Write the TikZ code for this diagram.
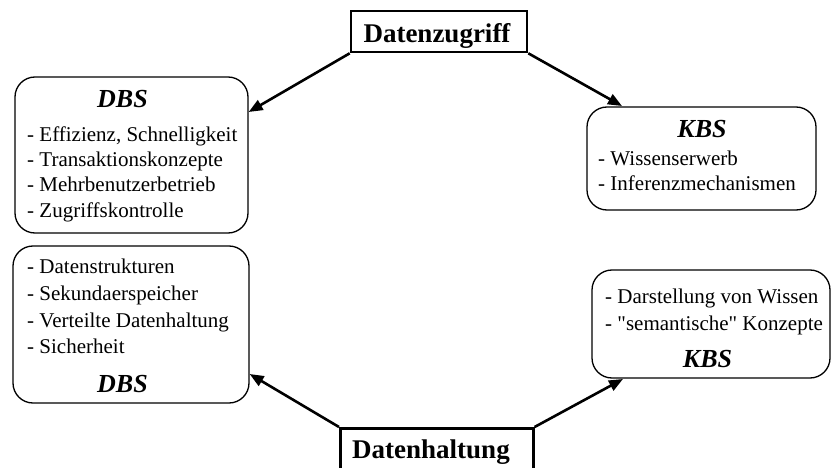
\documentclass[tikz,border=0pt]{standalone}
\usepackage{fontspec}
\setmainfont{Liberation Serif}
% same face without the TeX input mapping, so " stays a straight quote
\newfontfamily\plainserif{Liberation Serif}
\usetikzlibrary{arrows.meta}
\begin{document}
\begin{tikzpicture}[x=1pt,y=-1pt,
  topic/.style={draw, line width=2.6pt, rectangle, inner sep=0pt},
  topictext/.style={anchor=base, inner sep=0pt, font=\fontsize{27}{30}\selectfont\bfseries},
  sysbox/.style={draw, line width=1.3pt, rounded corners=20pt, rectangle, inner sep=0pt},
  systitle/.style={anchor=base, inner sep=0pt, font=\fontsize{26}{30}\selectfont\bfseries\itshape},
  item/.style={anchor=base west, inner sep=0pt, font=\plainserif\fontsize{21}{25}\selectfont},
  link/.style={line width=2.6pt, -{Triangle[length=14pt,width=11pt]}}
]
\clip (0,0) rectangle (833,468);
\useasboundingbox (0,0) rectangle (833,468);

% the two topic boxes
\node[topic, minimum width=176pt, minimum height=41pt] (zugriff) at (439,31.5) {};
\node[topictext] (zugriffText) at (437,43) {Datenzugriff};
\node[topic, minimum width=193pt, minimum height=50pt, anchor=north west] (haltung) at (339,427) {};
\node[topictext] (haltungText) at (431,458) {Datenhaltung};

% database system, access side
\node[sysbox, minimum width=233pt, minimum height=156pt] (dbsA) at (131.5,155) {};
\node[systitle] (dbsAtitle) at (122.5,108) {DBS};
\node[item] (dbsA1) at (27,142) {- Effizienz, Schnelligkeit};
\node[item] (dbsA2) at (27,167) {- Transaktionskonzepte};
\node[item] (dbsA3) at (27,192) {- Mehrbenutzerbetrieb};
\node[item] (dbsA4) at (27,217) {- Zugriffskontrolle};

% knowledge base system, access side
\node[sysbox, minimum width=229pt, minimum height=103pt] (kbsA) at (701.5,158.5) {};
\node[systitle] (kbsAtitle) at (702,138) {KBS};
\node[item] (kbsA1) at (598,165) {- Wissenserwerb};
\node[item] (kbsA2) at (598,190) {- Inferenzmechanismen};

% database system, storage side
\node[sysbox, minimum width=236pt, minimum height=157pt] (dbsB) at (131,324.5) {};
\node[item] (dbsB1) at (27,273) {- Datenstrukturen};
\node[item] (dbsB2) at (27,300) {- Sekundaerspeicher};
\node[item] (dbsB3) at (27,327) {- Verteilte Datenhaltung};
\node[item] (dbsB4) at (27,353) {- Sicherheit};
\node[systitle] (dbsBtitle) at (122.5,392) {DBS};

% knowledge base system, storage side
\node[sysbox, minimum width=238pt, minimum height=108pt] (kbsB) at (711,324) {};
\node[item] (kbsB1) at (605,303) {- Darstellung von Wissen};
\node[item] (kbsB2) at (605,330) {- "semantische" Konzepte};
\node[systitle] (kbsBtitle) at (707.5,367) {KBS};

% arrow targets on the boxes
\coordinate (tA) at (dbsA.east |- 0,112);
\coordinate (tB) at (622,106);
\coordinate (tC) at (dbsB.east |- 0,374);
\coordinate (tD) at (623,379);

% connectors
\draw[link] (zugriff.south west) -- (tA);
\draw[link] (zugriff.south east) -- (tB);
\draw[link] (haltung.north west) -- (tC);
\draw[link] (haltung.north east) -- (tD);
\end{tikzpicture}
\end{document}
